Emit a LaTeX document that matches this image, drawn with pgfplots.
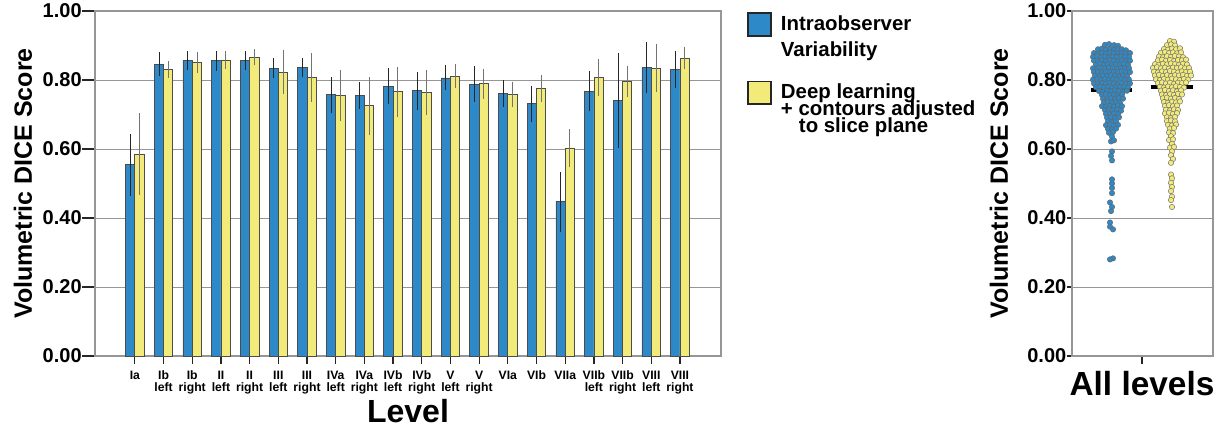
\documentclass[border=0pt]{standalone}
\usepackage{pgfplots}
\pgfplotsset{compat=1.18}
\usepackage{pgfplotstable}
\usepackage{fontspec}
\setmainfont{Liberation Sans}
\definecolor{blueF}{RGB}{46,137,200}
\definecolor{yelF}{RGB}{242,235,122}
\definecolor{gridC}{RGB}{150,150,150}

\pgfplotstableread{
x xb xy b bp bm y yp ym
0 -0.162 0.162 0.555 0.082 0.084 0.584 0.112 0.111
1 0.838 1.162 0.846 0.028 0.027 0.830 0.018 0.017
2 1.838 2.162 0.857 0.020 0.021 0.851 0.023 0.023
3 2.838 3.162 0.857 0.020 0.023 0.858 0.019 0.019
4 3.838 4.162 0.857 0.020 0.022 0.865 0.018 0.016
5 4.838 5.162 0.833 0.024 0.021 0.823 0.057 0.057
6 5.838 6.162 0.836 0.021 0.020 0.807 0.064 0.063
7 6.838 7.162 0.758 0.043 0.047 0.755 0.067 0.067
8 7.838 8.162 0.755 0.032 0.032 0.725 0.076 0.078
9 8.838 9.162 0.782 0.046 0.045 0.767 0.063 0.067
10 9.838 10.162 0.769 0.047 0.050 0.763 0.059 0.058
11 10.838 11.162 0.806 0.030 0.028 0.811 0.028 0.027
12 11.838 12.162 0.788 0.045 0.044 0.790 0.036 0.038
13 12.838 13.162 0.761 0.032 0.032 0.758 0.030 0.029
14 13.838 14.162 0.731 0.045 0.045 0.775 0.032 0.032
15 14.838 15.162 0.448 0.078 0.082 0.603 0.047 0.049
16 15.838 16.162 0.768 0.052 0.051 0.807 0.046 0.046
17 16.838 17.162 0.741 0.131 0.131 0.796 0.037 0.039
18 17.838 18.162 0.836 0.066 0.068 0.833 0.064 0.061
19 18.838 19.162 0.830 0.048 0.045 0.863 0.027 0.024
}\bars

\newcommand\legtext[2]{\vtop{\baselineskip=#1\lineskiplimit=-30pt\lineskip=0pt #2}}

\pgfplotsset{
  common/.style={
    scale only axis, ymin=0, ymax=1, ytick={0,0.2,0.4,0.6,0.8,1},
    ymajorgrids, major grid style={gridC, line width=0.5pt},
    axis line style={gridC, line width=0.6pt},
    tick align=outside, xtick pos=bottom, ytick pos=left,
    /pgf/number format/fixed, /pgf/number format/fixed zerofill,
    /pgf/number format/precision=2, /pgf/number format/assume math mode=true,
    yticklabel style={font=\fontsize{10}{12}\selectfont\bfseries, anchor=east, inner sep=0pt},
    xtick style={black!85, line width=0.6pt, /pgfplots/major tick length=4pt},
    ylabel={Volumetric DICE Score},
    ylabel style={font=\fontsize{12.5}{14}\selectfont\bfseries, anchor=center},
  },
  ebar/.style={draw=none, mark=none, forget plot,
    error bars/.cd, y dir=both, y explicit,
    error bar style={#1, line width=0.4pt},
    error mark options={#1, mark size=1.2pt, line width=0.4pt}},
}

\begin{document}
\begin{tikzpicture}
\useasboundingbox (0,0) rectangle (611.5pt,215pt);
\begin{axis}[common,
  at={(47.5pt,37pt)}, anchor=south west, width=313pt, height=172.5pt,
  xmin=-1.39, xmax=20.43, xtick={0,...,19},
  ytick style={black!85, line width=0.6pt, /pgfplots/major tick length=6.5pt},
  yticklabel style={xshift=-2.2pt},
  xticklabels={Ia,{Ib\\left},{Ib\\right},{II\\left},{II\\right},{III\\left},{III\\right},{IVa\\left},{IVa\\right},{IVb\\left},{IVb\\right},{V\\left},{V\\right},VIa,VIb,VIIa,{VIIb\\left},{VIIb\\right},{VIII\\left},{VIII\\right}},
  xticklabel style={font=\fontsize{6.1}{6.1}\selectfont\bfseries, align=center, anchor=north, inner sep=0pt, yshift=-2.9pt},
  xlabel={Level},
  xlabel style={font=\fontsize{16}{18}\selectfont\bfseries, at={(axis description cs:0.5,-0.194)}, anchor=base},
  ylabel style={at={(axis description cs:-0.115,0.5)}},
  legend cell align=left,
  legend style={at={(axis description cs:1.0415,0.997)}, anchor=north west, draw=none, fill=none,
    inner sep=0pt, row sep=0pt, font=\fontsize{10.2}{8.3}\selectfont\bfseries,
    nodes={inner sep=0pt, anchor=base west},
    /tikz/every odd column/.append style={column sep=4.5pt}},
]
\addplot[ybar, forget plot, bar width=4.65pt, bar shift=-2.325pt, fill=blueF, draw=black!70, line width=0.4pt]
  table[x=x, y=b] {\bars};
\addplot[ybar, forget plot, bar width=4.65pt, bar shift=2.325pt, fill=yelF, draw=black!70, line width=0.4pt]
  table[x=x, y=y] {\bars};
\addplot[ebar=black!85] table[x=xb, y=b, y error plus=bp, y error minus=bm] {\bars};
\addplot[ebar=black!55] table[x=xy, y=y, y error plus=yp, y error minus=ym] {\bars};
\addlegendimage{legend image code/.code={\draw[fill=blueF, draw=black!85, line width=0.8pt] (0pt,-2.5pt) rectangle (11.5pt,8.75pt); \path (0pt,-24.75pt);}}
\addlegendentry{\legtext{12.8pt}{\hbox{Intraobserver}\hbox{Variability}}}
\addlegendimage{legend image code/.code={\draw[fill=yelF, draw=black!85, line width=0.8pt] (0pt,-2.5pt) rectangle (11.5pt,8.75pt);}}
\addlegendentry{\legtext{8.3pt}{\hbox{Deep learning}\hbox{+ contours adjusted}\hbox{\hspace*{9pt}to slice plane}}}
\end{axis}

\begin{axis}[common,
  at={(536pt,37pt)}, anchor=south west, width=70.5pt, height=172.5pt,
  xmin=0, xmax=141, xtick={70}, xticklabels={All levels},
  ytick style={black!85, line width=0.6pt, /pgfplots/major tick length=2.7pt},
  yticklabel style={xshift=1.6pt},
  xticklabel style={font=\fontsize{16.7}{18}\selectfont\bfseries, anchor=north, inner sep=0pt, yshift=-3.2pt},
  ylabel style={at={(axis description cs:-0.518,0.5)}},
]
\addplot[only marks, mark=*, mark size=1.35pt, mark options={fill=blueF, draw=black!60, line width=0.25pt}]
coordinates {
(33,.902)(37,.904)(42,.901)(46,.899)
(26,.889)(30,.891)(34,.888)(38,.890)(42,.887)(46,.890)(50,.889)(54,.886)
(22,.878)(26,.876)(30,.879)(34,.877)(38,.880)(42,.878)(46,.876)(50,.879)(54,.877)(58,.878)
(21,.867)(25,.869)(29,.866)(33,.868)(37,.865)(41,.868)(45,.867)(49,.869)(53,.866)(57,.867)
(22,.856)(26,.854)(30,.857)(34,.855)(38,.858)(42,.856)(46,.854)(50,.857)(54,.855)(58,.856)
(24,.845)(28,.847)(32,.844)(36,.846)(40,.843)(44,.846)(48,.845)(52,.847)(56,.844)
(21,.834)(25,.832)(29,.835)(33,.833)(37,.836)(41,.834)(45,.832)(49,.835)(53,.833)(57,.834)
(22,.823)(26,.825)(30,.822)(34,.824)(38,.821)(42,.824)(46,.823)(50,.825)(54,.822)(58,.823)
(23,.812)(27,.810)(31,.813)(35,.811)(39,.814)(43,.812)(47,.810)(51,.813)(55,.811)
(21,.801)(25,.803)(29,.800)(33,.802)(37,.799)(41,.802)(45,.801)(49,.803)(53,.800)(57,.801)
(22,.790)(26,.788)(30,.791)(34,.789)(38,.792)(42,.790)(46,.788)(50,.791)(54,.789)(58,.790)
(24,.779)(28,.781)(32,.778)(36,.780)(40,.777)(44,.780)(48,.779)(52,.781)(56,.778)
(27,.768)(31,.766)(35,.769)(39,.767)(43,.770)(47,.768)(51,.766)(55,.769)
(30,.757)(34,.759)(38,.756)(42,.758)(46,.755)(50,.758)
(31,.746)(35,.744)(39,.747)(43,.745)(47,.748)(51,.746)
(32,.735)(36,.737)(40,.734)(44,.736)(48,.733)
(30,.724)(34,.722)(38,.725)(42,.723)(46,.726)(50,.724)
(33,.713)(37,.715)(41,.712)(45,.714)(49,.711)
(34,.702)(38,.700)(42,.703)(46,.701)
(35,.691)(39,.693)(43,.690)(47,.692)
(36,.680)(40,.678)(44,.681)
(34,.669)(38,.671)(42,.668)(46,.670)
(36,.658)(40,.656)(44,.659)
(37,.647)(41,.649)
(40,.636)
(39,.622)(42,.625)
(40,.593)(39,.580)(40,.567)
(40,.512)(40,.500)(40,.487)(40,.472)
(38,.445)(40,.432)(39,.420)
(38,.387)(38,.375)(41,.367)
(41,.283)(38,.280)
};
\addplot[only marks, mark=*, mark size=1.35pt, mark options={fill=yelF, draw=black!55, line width=0.25pt}]
coordinates {
(98,.913)(102,.911)
(95,.901)(99,.903)(103,.900)
(92,.890)(96,.888)(100,.891)(104,.889)(108,.892)
(89,.879)(93,.881)(97,.878)(101,.880)(105,.877)(109,.880)
(87,.868)(91,.866)(95,.869)(99,.867)(103,.870)(107,.868)(111,.866)
(86,.857)(90,.859)(94,.856)(98,.858)(102,.855)(106,.858)(110,.857)(114,.859)
(83,.846)(87,.844)(91,.847)(95,.845)(99,.848)(103,.846)(107,.844)(111,.847)(115,.845)
(81,.835)(85,.837)(89,.834)(93,.836)(97,.833)(101,.836)(105,.835)(109,.837)(113,.834)(117,.835)
(82,.824)(86,.822)(90,.825)(94,.823)(98,.826)(102,.824)(106,.822)(110,.825)(114,.823)(118,.824)
(83,.813)(87,.815)(91,.812)(95,.814)(99,.811)(103,.814)(107,.813)(111,.815)(115,.812)(119,.813)
(84,.802)(88,.800)(92,.803)(96,.801)(100,.804)(104,.802)(108,.800)(112,.803)(116,.801)
(86,.791)(90,.793)(94,.790)(98,.792)(102,.789)(106,.792)(110,.791)(114,.793)
(88,.780)(92,.778)(96,.781)(100,.779)(104,.782)(108,.780)(112,.778)
(89,.769)(93,.771)(97,.768)(101,.770)(105,.767)(109,.770)
(90,.758)(94,.756)(98,.759)(102,.757)(106,.760)(110,.758)
(91,.747)(95,.749)(99,.746)(103,.748)(107,.745)
(92,.736)(96,.734)(100,.737)(104,.735)(108,.738)
(93,.725)(97,.727)(101,.724)(105,.726)
(94,.714)(98,.712)(102,.715)(106,.713)
(93,.703)(97,.705)(101,.702)(105,.704)
(95,.692)(99,.690)(103,.693)
(95,.681)(99,.683)(103,.680)
(96,.670)(100,.668)(104,.671)
(98,.659)(102,.661)
(97,.648)(101,.646)
(99,.637)
(97,.626)(101,.628)
(100,.615)
(98,.604)(102,.606)
(100,.593)(99,.582)(101,.571)(99,.560)
(99,.526)(100,.515)(99,.502)(100,.490)(99,.478)
(100,.462)(99,.452)(100,.432)
};
\addplot[black, line width=2pt] coordinates {(19,.770)(60,.770)};
\addplot[black, line width=2pt] coordinates {(79,.779)(121,.779)};
\end{axis}
\end{tikzpicture}
\end{document}
